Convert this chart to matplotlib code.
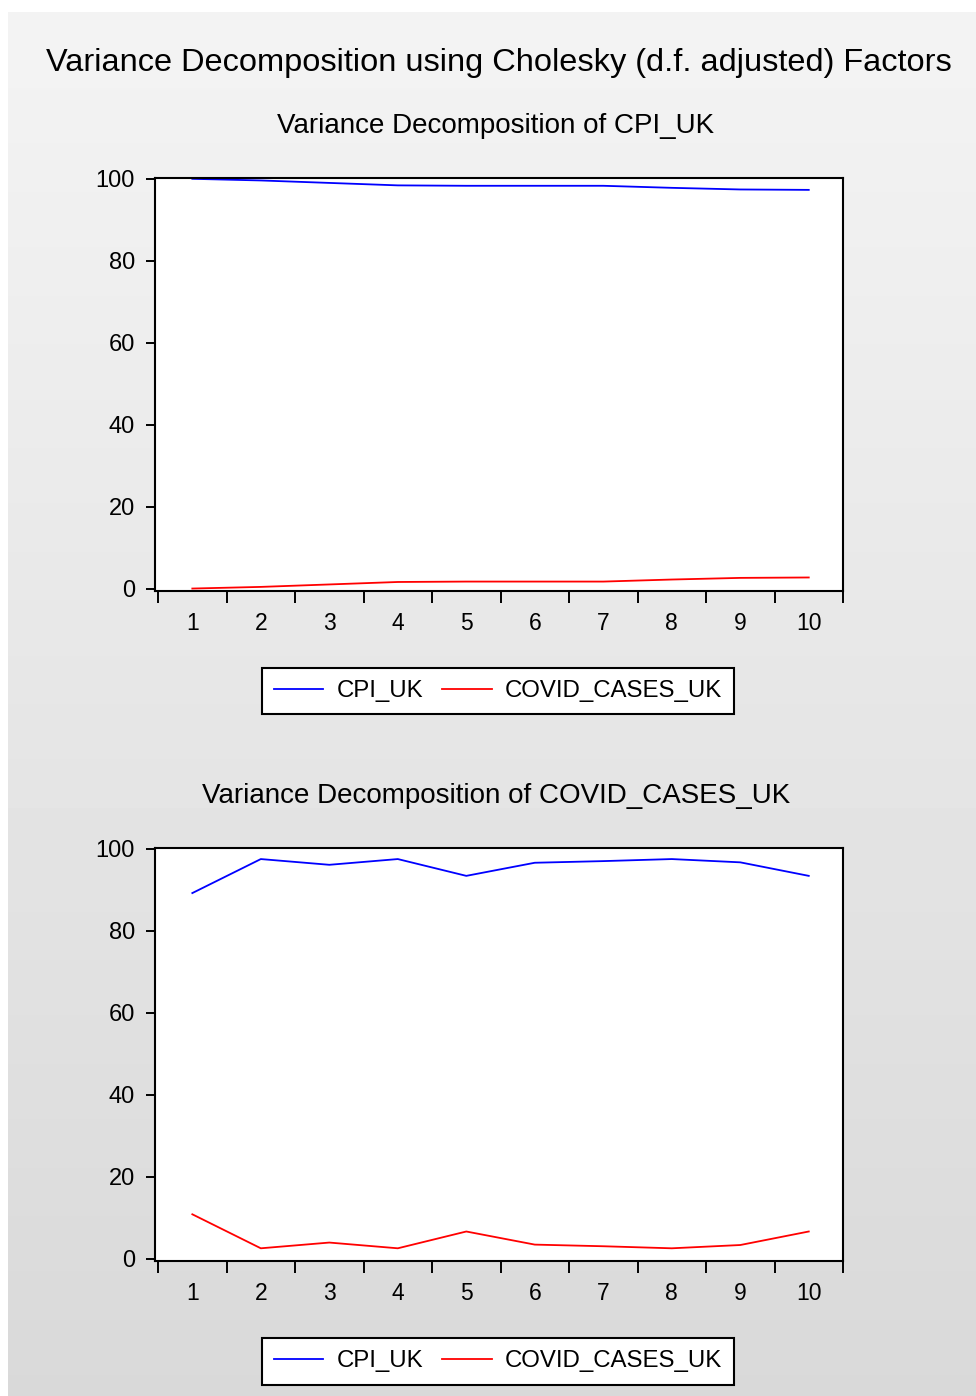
import numpy as np
import matplotlib
matplotlib.use("Agg")
import matplotlib.pyplot as plt
from matplotlib.ticker import FixedLocator, NullFormatter

plt.rcParams['font.family'] = ['Liberation Sans', 'DejaVu Sans']

# forecast periods
periods = np.arange(1, 11)
period_labels = [str(p) for p in periods]

# Variance decomposition of CPI_UK (percent)
cpi_uk_cpi = [100.0, 99.6, 99.0, 98.4, 98.3, 98.3, 98.3, 97.8, 97.4, 97.3]
cpi_uk_covid = [0.0, 0.4, 1.0, 1.6, 1.7, 1.7, 1.7, 2.2, 2.6, 2.7]

# Variance decomposition of COVID_CASES_UK (percent)
covid_uk_cpi = [89.2, 97.5, 96.1, 97.5, 93.4, 96.6, 97.0, 97.5, 96.7, 93.4]
covid_uk_covid = [10.8, 2.5, 3.9, 2.5, 6.6, 3.4, 3.0, 2.5, 3.3, 6.6]

series_names = ["CPI_UK", "COVID_CASES_UK"]
yticks = [0, 20, 40, 60, 80, 100]

W, H = 976, 1396
fig = plt.figure(figsize=(W / 100, H / 100), dpi=100, facecolor="white")

# grey gradient background (white strip on left and top like the screenshot)
bg = fig.add_axes([8 / W, 0, 1 - 8 / W, 1 - 12 / H], zorder=-10)
grad = np.linspace(0.955, 0.85, 200).reshape(-1, 1)
bg.imshow(grad, aspect="auto", cmap="gray", vmin=0, vmax=1,
          extent=[0, 1, 0, 1], origin="upper")
bg.set_axis_off()

fig.text(499 / W, 1 - 63 / H,
         "Variance Decomposition using Cholesky (d.f. adjusted) Factors",
         ha="center", va="center", fontsize=23.4)


def draw_panel(top_px, title, y_title_px, cpi_vals, covid_vals, legend_px):
    left, right, bottom = 155, 843, top_px + 413
    ax = fig.add_axes([left / W, 1 - bottom / H, (right - left) / W, 413 / H])
    ax.set_facecolor("white")
    ax.plot(periods, cpi_vals, color="#0000ff", lw=1.3, label=series_names[0])
    ax.plot(periods, covid_vals, color="#ff0000", lw=1.3, label=series_names[1])
    ax.set_xlim(0.455, 10.5)
    ax.set_ylim(-0.6, 100.2)

    ax.set_yticks(yticks)
    ax.tick_params(axis="y", direction="out", length=6.5, width=1.4,
                   labelsize=17, pad=8)
    ax.set_xticks(periods)
    ax.set_xticklabels(period_labels)
    ax.xaxis.set_minor_locator(FixedLocator(np.arange(0.5, 11, 1)))
    ax.xaxis.set_minor_formatter(NullFormatter())
    ax.tick_params(axis="x", which="major", length=0, labelsize=16.5, pad=15)
    ax.tick_params(axis="x", which="minor", direction="out", length=8.5,
                   width=1.4)
    for s in ax.spines.values():
        s.set_linewidth(1.5)
        s.set_color("black")

    fig.text(496 / W, 1 - y_title_px / H, title, ha="center", va="center",
             fontsize=20)

    lx0, ly0, lx1, ly1 = legend_px
    leg = ax.legend(loc="center", ncol=2, fontsize=17.3,
                    bbox_to_anchor=((lx0 + lx1) / 2 / W, 1 - (ly0 + ly1) / 2 / H),
                    bbox_transform=fig.transFigure, frameon=True, fancybox=False,
                    edgecolor="black", facecolor="white", framealpha=1,
                    handlelength=2.05, handletextpad=0.55, columnspacing=0.8,
                    borderpad=0.5, borderaxespad=0)
    leg.get_frame().set_linewidth(1.5)
    return ax


draw_panel(178, "Variance Decomposition of CPI_UK", 126,
           cpi_uk_cpi, cpi_uk_covid, (261, 668, 735, 714))
draw_panel(848, "Variance Decomposition of COVID_CASES_UK", 796,
           covid_uk_cpi, covid_uk_covid, (261, 1338, 735, 1385))

fig.savefig("out.png", dpi=100, facecolor=fig.get_facecolor())
